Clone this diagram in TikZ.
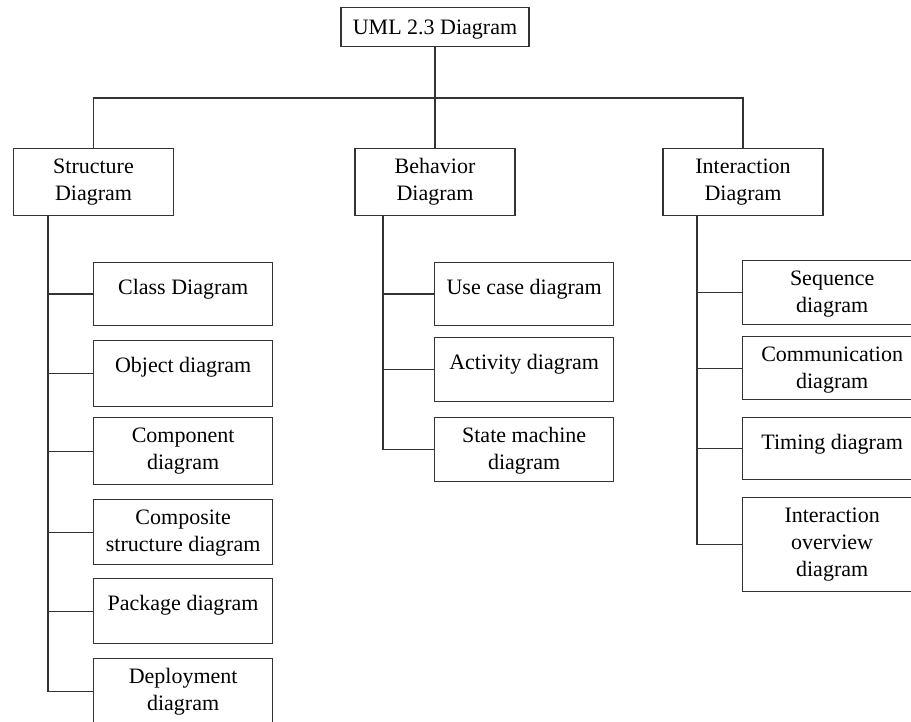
\documentclass[tikz,border=0pt]{standalone}
\usepackage{fontspec}
\setmainfont{Liberation Serif}
\definecolor{linecol}{HTML}{333333}
\begin{document}
\begin{tikzpicture}[x=1pt,y=-1pt,
  frame/.style={draw=linecol, line width=1.3pt, inner sep=0pt},
  child/.style={frame, anchor=north west, minimum width=179pt},
  head/.style={frame, anchor=north, minimum width=160pt, minimum height=67pt},
  lbl/.style={anchor=north, inner sep=0pt, align=center, text=black,
    font=\fontsize{22}{27}\selectfont},
  link/.style={draw=linecol, line width=1.3pt}]
\useasboundingbox (0,0) rectangle (911,722);
\clip (0,0) rectangle (911,722);

% root
\node[frame, anchor=north, minimum width=188pt, minimum height=39pt] (root) at (435,7) {};
\node[lbl] (rootT) at ([yshift=-8pt]root.north) {\strut UML 2.3 Diagram};

% three categories
\node[head] (str) at (93.5,148) {};
\node[head] (beh) at (435,148) {};
\node[head] (int) at (743,148) {};
\node[lbl] (strT) at ([yshift=-6.5pt]str.north) {\strut Structure\\Diagram};
\node[lbl] (behT) at ([yshift=-6.5pt]beh.north) {\strut Behavior\\Diagram};
\node[lbl] (intT) at ([yshift=-6.5pt]int.north) {\strut Interaction\\Diagram};

% structure diagrams
\node[child, minimum height=63pt] (cls) at (93,262) {};
\node[child, minimum height=66pt] (obj) at (93,340) {};
\node[child, minimum height=67pt] (cmp) at (93,417) {};
\node[child, minimum height=65pt] (csd) at (93,499) {};
\node[child, minimum height=65pt] (pkg) at (93,578) {};
\node[child, minimum height=66pt] (dep) at (93,658) {};
\node[lbl] (clsT) at ([yshift=-13.5pt]cls.north) {\strut Class Diagram};
\node[lbl] (objT) at ([yshift=-13.5pt]obj.north) {\strut Object diagram};
\node[lbl] (cmpT) at ([yshift=-6.5pt]cmp.north) {\strut Component\\diagram};
\node[lbl] (csdT) at ([yshift=-6.5pt]csd.north) {\strut Composite\\structure diagram};
\node[lbl] (pkgT) at ([yshift=-13.5pt]pkg.north) {\strut Package diagram};
\node[lbl] (depT) at ([yshift=-6.5pt]dep.north) {\strut Deployment\\diagram};

% behavior diagrams
\node[child, minimum height=63pt] (use) at (434,262) {};
\node[child, minimum height=64pt] (act) at (434,337) {};
\node[child, minimum height=64pt] (stm) at (434,417) {};
\node[lbl] (useT) at ([yshift=-13.5pt]use.north) {\strut Use case diagram};
\node[lbl] (actT) at ([yshift=-13.5pt]act.north) {\strut Activity diagram};
\node[lbl] (stmT) at ([yshift=-6.5pt]stm.north) {\strut State machine\\diagram};

% interaction diagrams
\node[child, minimum height=64pt] (seq) at (742,260) {};
\node[child, minimum height=63pt] (com) at (742,336) {};
\node[child, minimum height=62pt] (tim) at (742,417) {};
\node[child, minimum height=94pt] (ovr) at (742,497) {};
\node[lbl] (seqT) at ([yshift=-6.5pt]seq.north) {\strut Sequence\\diagram};
\node[lbl] (comT) at ([yshift=-6.5pt]com.north) {\strut Communication\\diagram};
\node[lbl] (timT) at ([yshift=-13.5pt]tim.north) {\strut Timing diagram};
\node[lbl] (ovrT) at ([yshift=-6.5pt]ovr.north) {\strut Interaction\\overview\\diagram};

% top level connectors
\coordinate (bar) at (435,98);
\draw[link] (root.south) -- (beh.north);
\draw[link] (str.north) |- (bar) -| (int.north);

% structure branch
\coordinate (sb) at (48,215);
\draw[link] (sb) |- (dep.west);
\foreach \n in {cls,obj,cmp,csd,pkg}
  \draw[link] (\n.west -| sb) -- (\n.west);

% behavior branch
\coordinate (bb) at (383,215);
\draw[link] (bb) |- (stm.west);
\foreach \n in {use,act}
  \draw[link] (\n.west -| bb) -- (\n.west);

% interaction branch
\coordinate (ib) at (697,215);
\draw[link] (ib) |- (ovr.west);
\foreach \n in {seq,com,tim}
  \draw[link] (\n.west -| ib) -- (\n.west);
\end{tikzpicture}
\end{document}
